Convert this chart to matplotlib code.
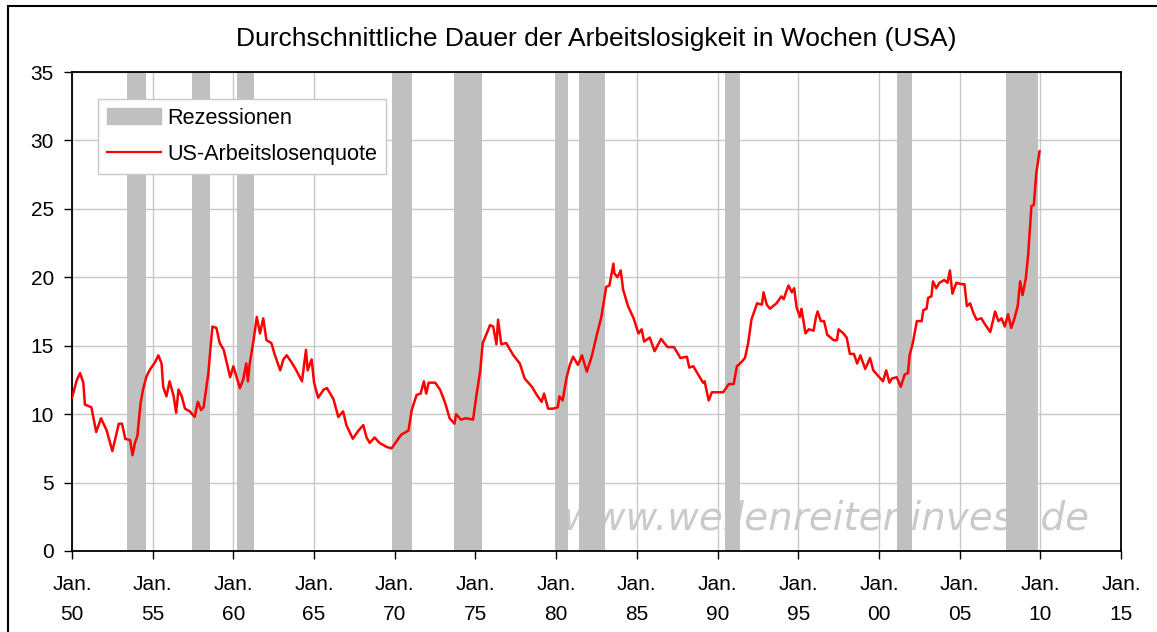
import matplotlib
matplotlib.use("Agg")
import matplotlib.pyplot as plt
import matplotlib.patches as mpatches
from matplotlib.lines import Line2D

# recession periods (decimal years)
rec_start = [1953.4, 1957.45, 1960.2, 1969.85, 1973.7, 1979.9, 1981.4, 1990.45, 2001.1, 2007.9]
rec_end = [1954.6, 1958.55, 1961.3, 1971.05, 1975.4, 1980.75, 1983.0, 1991.4, 2002.05, 2009.85]

# average duration of unemployment in weeks
years = [1950.0, 1950.3, 1950.5, 1950.7, 1950.8, 1951.2, 1951.5, 1951.8, 1952.15, 1952.5,
         1952.9, 1953.1, 1953.3, 1953.6, 1953.75, 1953.9, 1954.05, 1954.25, 1954.4, 1954.6,
         1954.8, 1955.15, 1955.35, 1955.55, 1955.65, 1955.85, 1956.05, 1956.3, 1956.45, 1956.6,
         1956.8, 1957.0, 1957.3, 1957.6, 1957.8, 1958.0, 1958.15, 1958.45, 1958.55, 1958.7,
         1958.95, 1959.15, 1959.4, 1959.6, 1959.8, 1960.0, 1960.4, 1960.6, 1960.8, 1960.9,
         1961.0, 1961.25, 1961.45, 1961.65, 1961.85, 1962.05, 1962.35, 1962.55, 1962.9, 1963.1,
         1963.3, 1963.6, 1963.9, 1964.25, 1964.5, 1964.6, 1964.85, 1965.0, 1965.25, 1965.6,
         1965.8, 1966.0, 1966.2, 1966.5, 1966.8, 1967.0, 1967.4, 1967.75, 1968.05, 1968.25,
         1968.45, 1968.75, 1969.05, 1969.5, 1969.8, 1970.1, 1970.4, 1970.85, 1971.05, 1971.35,
         1971.6, 1971.8, 1971.95, 1972.1, 1972.5, 1972.8, 1973.1, 1973.4, 1973.7, 1973.8,
         1974.1, 1974.4, 1974.85, 1975.05, 1975.3, 1975.45, 1975.7, 1975.9, 1976.1, 1976.3,
         1976.4, 1976.6, 1976.9, 1977.35, 1977.75, 1978.05, 1978.5, 1978.8, 1979.1, 1979.25,
         1979.5, 1979.8, 1980.1, 1980.2, 1980.4, 1980.65, 1980.85, 1981.05, 1981.35, 1981.6,
         1981.9, 1982.2, 1982.5, 1982.8, 1983.1, 1983.3, 1983.55, 1983.6, 1983.8, 1984.0,
         1984.15, 1984.45, 1984.8, 1985.1, 1985.3, 1985.45, 1985.8, 1986.1, 1986.5, 1986.9,
         1987.3, 1987.7, 1988.1, 1988.25, 1988.5, 1988.8, 1989.1, 1989.2, 1989.45, 1989.65,
         1989.95, 1990.35, 1990.7, 1991.0, 1991.2, 1991.4, 1991.7, 1991.9, 1992.1, 1992.45,
         1992.75, 1992.85, 1993.05, 1993.25, 1993.65, 1993.95, 1994.1, 1994.3, 1994.4, 1994.6,
         1994.75, 1994.9, 1995.1, 1995.2, 1995.45, 1995.65, 1995.95, 1996.1, 1996.2, 1996.4,
         1996.6, 1996.8, 1997.2, 1997.4, 1997.5, 1997.8, 1998.0, 1998.2, 1998.45, 1998.65,
         1998.85, 1999.15, 1999.45, 1999.65, 1999.95, 2000.25, 2000.45, 2000.65, 2000.8, 2001.1,
         2001.35, 2001.6, 2001.8, 2001.9, 2002.1, 2002.35, 2002.65, 2002.75, 2002.95, 2003.05,
         2003.25, 2003.35, 2003.55, 2003.75, 2004.05, 2004.25, 2004.4, 2004.55, 2004.8, 2005.1,
         2005.3, 2005.45, 2005.65, 2005.85, 2006.05, 2006.35, 2006.55, 2006.9, 2007.2, 2007.4,
         2007.6, 2007.8, 2008.0, 2008.2, 2008.4, 2008.6, 2008.75, 2008.9, 2009.1, 2009.25,
         2009.45, 2009.6, 2009.75, 2009.95]
weeks = [11.2, 12.5, 13.0, 12.3, 10.7, 10.5, 8.7, 9.7, 8.8, 7.3,
         9.3, 9.3, 8.2, 8.1, 7.0, 7.9, 8.4, 10.8, 11.8, 12.7,
         13.2, 13.8, 14.3, 13.7, 12.0, 11.3, 12.4, 11.3, 10.1, 11.8,
         11.3, 10.4, 10.2, 9.8, 10.9, 10.3, 10.5, 13.0, 14.4, 16.4,
         16.3, 15.2, 14.7, 13.7, 12.7, 13.5, 11.9, 12.5, 13.7, 12.4,
         13.6, 15.4, 17.1, 15.9, 17.0, 15.4, 15.2, 14.4, 13.2, 14.0,
         14.3, 13.8, 13.2, 12.4, 14.7, 13.2, 14.0, 12.3, 11.2, 11.8,
         11.9, 11.5, 11.1, 9.8, 10.2, 9.2, 8.2, 8.8, 9.2, 8.3,
         7.9, 8.3, 7.9, 7.6, 7.5, 8.0, 8.5, 8.8, 10.3, 11.4,
         11.5, 12.4, 11.5, 12.3, 12.3, 11.8, 10.9, 9.7, 9.3, 10.0,
         9.6, 9.7, 9.6, 11.3, 13.2, 15.2, 15.9, 16.5, 16.4, 15.1,
         16.9, 15.1, 15.2, 14.3, 13.7, 12.6, 12.0, 11.4, 10.9, 11.5,
         10.4, 10.4, 10.5, 11.3, 11.0, 12.7, 13.6, 14.2, 13.6, 14.3,
         13.1, 14.2, 15.7, 17.1, 19.3, 19.4, 21.0, 20.3, 20.0, 20.5,
         19.1, 17.9, 17.0, 15.9, 16.2, 15.3, 15.6, 14.6, 15.5, 14.9,
         14.9, 14.1, 14.2, 13.4, 13.5, 12.9, 12.3, 12.4, 11.0, 11.6,
         11.6, 11.6, 12.2, 12.2, 13.5, 13.7, 14.1, 15.2, 16.9, 18.1,
         18.0, 18.9, 18.0, 17.7, 18.1, 18.6, 18.4, 19.1, 19.4, 18.9,
         19.2, 17.8, 17.1, 17.7, 15.9, 16.2, 16.1, 17.1, 17.5, 16.8,
         16.8, 15.8, 15.4, 15.4, 16.2, 15.9, 15.6, 14.4, 14.4, 13.7,
         14.3, 13.3, 14.1, 13.2, 12.8, 12.4, 13.2, 12.3, 12.6, 12.7,
         12.0, 12.9, 13.0, 14.3, 15.2, 16.8, 16.8, 17.6, 17.7, 18.5,
         18.6, 19.7, 19.2, 19.6, 19.8, 19.6, 20.5, 18.8, 19.6, 19.5,
         19.5, 17.9, 18.1, 17.4, 16.9, 17.0, 16.6, 16.0, 17.5, 16.8,
         17.0, 16.4, 17.3, 16.3, 17.0, 17.9, 19.7, 18.7, 19.9, 21.7,
         25.2, 25.3, 27.6, 29.2]

tick_years = list(range(1950, 2016, 5))
tick_labels = ["Jan.\n%02d" % (y % 100) for y in tick_years]

plt.rcParams['font.family'] = ['Liberation Sans', 'DejaVu Sans']

fig = plt.figure(figsize=(11.57, 6.32), dpi=100)
ax = fig.add_axes([72/1157, 1 - 551/632, (1121 - 72)/1157, (551 - 72)/632])

# watermark behind everything
ax.text(0.719, 0.068, "www.wellenreiter-invest.de", transform=ax.transAxes,
        ha='center', va='center', fontsize=28, style='italic', color='#cacaca',
        family='DejaVu Sans', zorder=0)

for s, e in zip(rec_start, rec_end):
    ax.axvspan(s, e, color='#c0c0c0', lw=0, zorder=2)

ax.plot(years, weeks, color='#ff0000', lw=1.8, zorder=3)

ax.set_xlim(1950, 2015)
ax.set_ylim(0, 35)
ax.set_yticks(range(0, 36, 5))
ax.set_xticks(tick_years)
ax.set_xticklabels(tick_labels, linespacing=1.75)
ax.tick_params(axis='both', labelsize=15, direction='out', length=6, width=1, color='black')
ax.tick_params(axis='x', pad=11)
ax.tick_params(axis='y', pad=7)
ax.grid(True, color='#c8c8c8', lw=1, zorder=1)
ax.set_axisbelow(True)
for sp in ax.spines.values():
    sp.set_color('black')
    sp.set_linewidth(1.3)

ax.set_title("Durchschnittliche Dauer der Arbeitslosigkeit in Wochen (USA)",
             fontsize=19, pad=19)

handles = [mpatches.Patch(color='#c0c0c0', label='Rezessionen'),
           Line2D([], [], color='#ff0000', lw=1.6, label='US-Arbeitslosenquote')]
leg = ax.legend(handles=handles, loc='upper left', bbox_to_anchor=(0.0248, 0.9436),
                fontsize=15.6, fancybox=False, framealpha=1, edgecolor='#c8c8c8',
                handlelength=2.5, handleheight=0.8, borderpad=0.4, labelspacing=0.7,
                handletextpad=0.3, borderaxespad=0)
leg.get_frame().set_linewidth(1)

# outer frame of the chart, cut off at right and bottom
fig.patches.append(mpatches.Rectangle((8/1157, -0.1), 1.2, 1.1 - 6/632, transform=fig.transFigure,
                                      fill=False, edgecolor='black', lw=1.5))

fig.savefig("out.png", dpi=100)
